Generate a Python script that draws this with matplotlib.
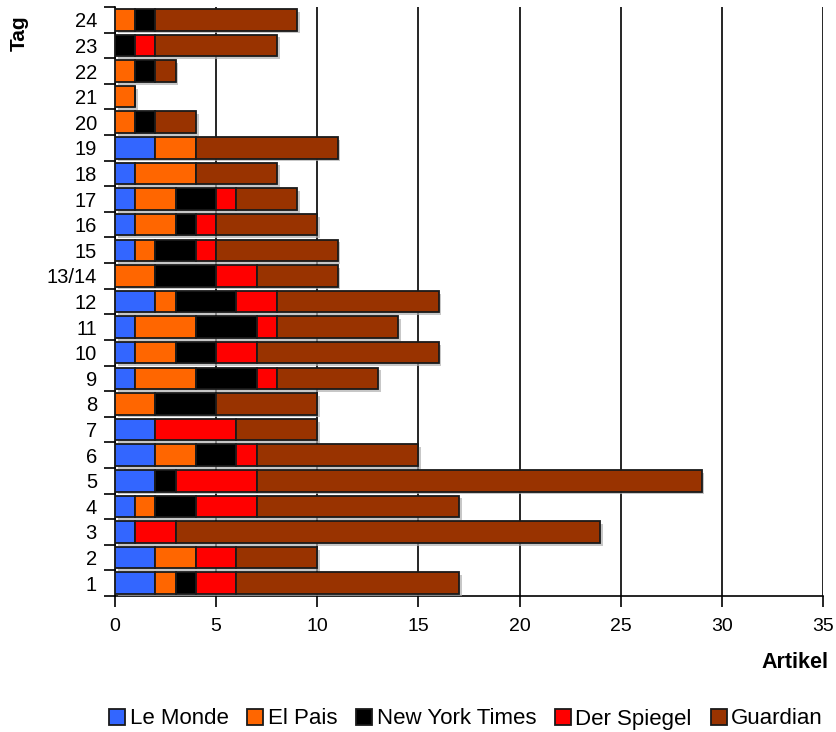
import matplotlib
matplotlib.use("Agg")
import matplotlib.pyplot as plt
import matplotlib.patheffects as pe
import numpy as np

days = ["1", "2", "3", "4", "5", "6", "7", "8", "9", "10", "11", "12", "13/14",
        "15", "16", "17", "18", "19", "20", "21", "22", "23", "24"]
le_monde = [2, 2, 1, 1, 2, 2, 2, 0, 1, 1, 1, 2, 0, 1, 1, 1, 1, 2, 0, 0, 0, 0, 0]
el_pais = [1, 2, 0, 1, 0, 2, 0, 2, 3, 2, 3, 1, 2, 1, 2, 2, 3, 2, 1, 1, 1, 0, 1]
nyt = [1, 0, 0, 2, 1, 2, 0, 3, 3, 2, 3, 3, 3, 2, 1, 2, 0, 0, 1, 0, 1, 1, 1]
spiegel = [2, 2, 2, 3, 4, 1, 4, 0, 1, 2, 1, 2, 2, 1, 1, 1, 0, 0, 0, 0, 0, 1, 0]
guardian = [11, 4, 21, 10, 22, 8, 4, 5, 5, 9, 6, 8, 4, 6, 5, 3, 4, 7, 2, 0, 1, 6, 7]

series = [("Le Monde", le_monde, "#3366FF"),
          ("El Pais", el_pais, "#FF6600"),
          ("New York Times", nyt, "#000000"),
          ("Der Spiegel", spiegel, "#FF0000"),
          ("Guardian", guardian, "#993300")]

plt.rcParams['font.family'] = ['Liberation Sans', 'DejaVu Sans']

fig = plt.figure(figsize=(8.37, 7.32), dpi=100)
ax = fig.add_axes([115/837, 1 - 596/732, (823-115)/837, (596-7)/732])

y = np.arange(len(days))
left = np.zeros(len(days))
shadow = [pe.SimplePatchShadow(offset=(2, -2), shadow_rgbFace='#b0b0b0', alpha=0.7), pe.Normal()]
for name, vals, col in series:
    vals = np.array(vals, dtype=float)
    bars = ax.barh(y, vals, left=left, height=0.84, color=col, edgecolor='#1a1a1a',
                   linewidth=1.3, label=name, zorder=3)
    for b, v in zip(bars, vals):
        if v > 0:
            b.set_path_effects(shadow)
    left += vals

ax.set_xlim(0, 35)
ax.set_ylim(-0.5, len(days) - 0.5)
ax.set_xticks(np.arange(0, 36, 5))
ax.set_yticks(y)
ax.set_yticklabels(days)
ax.set_yticks(np.arange(-0.5, len(days), 1), minor=True)
ax.tick_params(axis='y', which='major', length=0, pad=13, labelsize=14.5)
ax.tick_params(axis='y', which='minor', length=8, width=1.2, direction='out')
ax.tick_params(axis='x', which='major', length=8, width=1.2, direction='out', pad=8, labelsize=14)
ax.grid(axis='x', color='black', linewidth=1.2, zorder=0)
ax.set_axisbelow(True)
for s in ['top', 'right']:
    ax.spines[s].set_visible(False)
ax.spines['left'].set_linewidth(1.2)
ax.spines['bottom'].set_linewidth(1.2)

fig.text(828/837, 1 - 663/732, "Artikel", ha='right', va='center', fontsize=15.5, fontweight='bold')
fig.text(19/837, 1 - 33/732, "Tag", ha='center', va='center', fontsize=15, fontweight='bold', rotation=90)

leg = fig.legend(loc='center', bbox_to_anchor=(466/837, 1 - 719/732), ncol=5, frameon=False,
                 fontsize=16, handlelength=0.72, handleheight=0.7, handletextpad=0.2,
                 columnspacing=0.85, borderpad=0.1)
for h in leg.legend_handles:
    h.set_path_effects([])

fig.savefig("out.png", dpi=100)
